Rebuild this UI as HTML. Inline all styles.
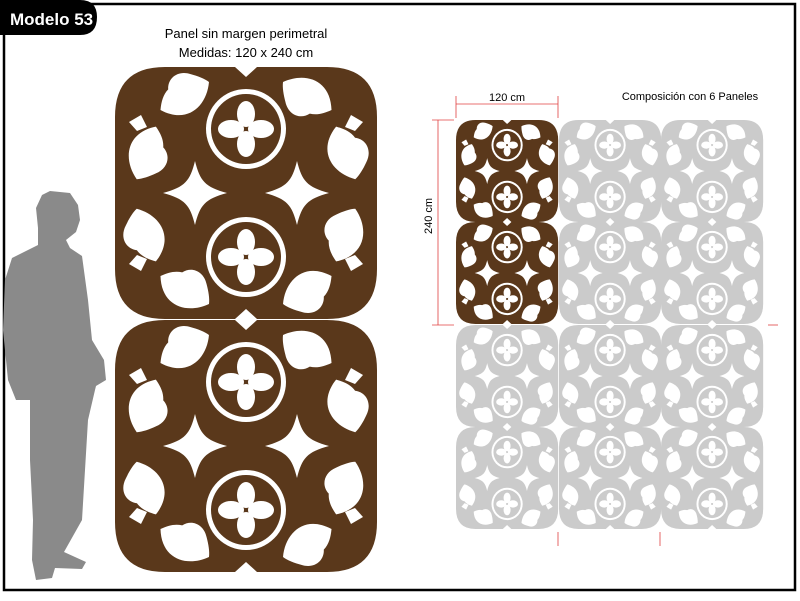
<!DOCTYPE html>
<html><head><meta charset="utf-8">
<style>
html,body{margin:0;padding:0;background:#fff;}
body{width:800px;height:596px;overflow:hidden;font-family:"Liberation Sans",sans-serif;}
</style></head>
<body>
<svg width="800" height="596" viewBox="0 0 800 596" xmlns="http://www.w3.org/2000/svg">
<defs>
  <path id="leaf" d="M0,-30 C20,-16 26,10 0,26 C-7,21 -12,16 -14,9 C-24,4 -26,-9 -16,-18 C-11,-23 -5,-28 0,-30 Z"/>
  <path id="star" d="M0,-32 C5,-12 10,-6 32,0 C10,6 5,12 0,32 C-5,12 -10,6 -32,0 C-10,-6 -5,-12 0,-32 Z"/>
  <g id="rose">
    <circle r="40" fill="#fff"/>
    <circle r="35" fill="currentColor"/>
    <ellipse cx="0" cy="-15" rx="9" ry="13" fill="#fff"/>
    <ellipse cx="0" cy="15" rx="9" ry="13" fill="#fff"/>
    <ellipse cx="-15" cy="0" rx="13" ry="9" fill="#fff"/>
    <ellipse cx="15" cy="0" rx="13" ry="9" fill="#fff"/>
  </g>
  <g id="mod">
    <path d="M50,0 L120,0 L131,10 L142,0 L212,0 Q262,0 262,50 L262,202 Q262,252 212,252 L142,252 L131,242 L120,252 L50,252 Q0,252 0,202 L0,50 Q0,0 50,0 Z" fill="currentColor"/>
    <use href="#rose" x="131" y="62"/>
    <use href="#rose" x="131" y="190"/>
    <g fill="#fff">
      <use href="#star" x="80" y="126"/>
      <use href="#star" x="182" y="126"/>
      <use href="#leaf" transform="translate(68,30) rotate(60)"/>
      <use href="#leaf" transform="translate(32,84) rotate(200)"/>
      <use href="#leaf" transform="translate(32,170) rotate(-20)"/>
      <use href="#leaf" transform="translate(68,222) rotate(120)"/>
      <use href="#leaf" transform="translate(194,30) rotate(-60)"/>
      <use href="#leaf" transform="translate(230,84) rotate(160)"/>
      <use href="#leaf" transform="translate(230,170) rotate(20)"/>
      <use href="#leaf" transform="translate(194,222) rotate(-120)"/>
      <path d="M14,55 L26,48 L32,60 L22,64 Z"/>
      <path d="M248,55 L236,48 L230,60 L240,64 Z"/>
      <path d="M14,197 L26,204 L32,192 L22,188 Z"/>
      <path d="M248,197 L236,204 L230,192 L240,188 Z"/>
    </g>
  </g>
</defs>

<rect x="4" y="4" width="791" height="586" fill="none" stroke="#000" stroke-width="2.5"/>
<path d="M0,0 L80,0 Q97,0 97,17 Q97,35 80,35 L0,35 Z" fill="#000"/>
<text x="10" y="25" font-size="17" font-weight="bold" fill="#fff">Modelo 53</text>

<text x="246" y="38" font-size="13" text-anchor="middle" fill="#000">Panel sin margen perimetral</text>
<text x="246" y="57" font-size="13" text-anchor="middle" fill="#000">Medidas: 120 x 240 cm</text>

<g color="#5a381b">
  <use href="#mod" x="115" y="67"/>
  <use href="#mod" x="115" y="320"/>
</g>

<path d="M50,191 L70,193 L78,205 L80,220 L76,232 L66,240 L70,248 L82,256 L88,300 L92,340 L104,360 L106,380 L96,386 L95,390 L88,420 L82,520 L64,552 L86,562 L82,569 L55,568 L52,578 L36,580 L32,560 L33,520 L30,460 L30,400 L16,400 L8,380 L3,330 L5,280 L12,258 L38,245 L38,228 L36,208 L42,195 Z" fill="#8a8a8a"/>

<g color="#cbcbcb">
  <g transform="translate(559,120) scale(0.39,0.405)"><use href="#mod"/></g>
  <g transform="translate(661,120) scale(0.39,0.405)"><use href="#mod"/></g>
  <g transform="translate(559,222) scale(0.39,0.405)"><use href="#mod"/></g>
  <g transform="translate(661,222) scale(0.39,0.405)"><use href="#mod"/></g>
  <g transform="translate(456,325) scale(0.39,0.405)"><use href="#mod"/></g>
  <g transform="translate(559,325) scale(0.39,0.405)"><use href="#mod"/></g>
  <g transform="translate(661,325) scale(0.39,0.405)"><use href="#mod"/></g>
  <g transform="translate(456,427) scale(0.39,0.405)"><use href="#mod"/></g>
  <g transform="translate(559,427) scale(0.39,0.405)"><use href="#mod"/></g>
  <g transform="translate(661,427) scale(0.39,0.405)"><use href="#mod"/></g>
</g>
<g color="#5a381b">
  <g transform="translate(456,120) scale(0.39,0.405)"><use href="#mod"/></g>
  <g transform="translate(456,222) scale(0.39,0.405)"><use href="#mod"/></g>
</g>

<g stroke="#e04040" stroke-width="0.8" fill="none">
  <line x1="456" y1="104" x2="558" y2="104"/>
  <line x1="456" y1="96" x2="456" y2="118"/>
  <line x1="558" y1="96" x2="558" y2="118"/>
  <line x1="438" y1="120" x2="438" y2="325"/>
  <line x1="432" y1="120" x2="454" y2="120"/>
  <line x1="432" y1="325" x2="454" y2="325"/>
  <line x1="558" y1="532" x2="558" y2="546"/>
  <line x1="660" y1="532" x2="660" y2="546"/>
  <line x1="768" y1="325" x2="778" y2="325"/>
</g>
<text x="507" y="101" font-size="11" text-anchor="middle" fill="#000">120 cm</text>
<text x="690" y="100" font-size="11" text-anchor="middle" fill="#000">Composición con 6 Paneles</text>
<text transform="translate(432,216) rotate(-90)" font-size="11" text-anchor="middle" fill="#000">240 cm</text>
</svg>
</body></html>
